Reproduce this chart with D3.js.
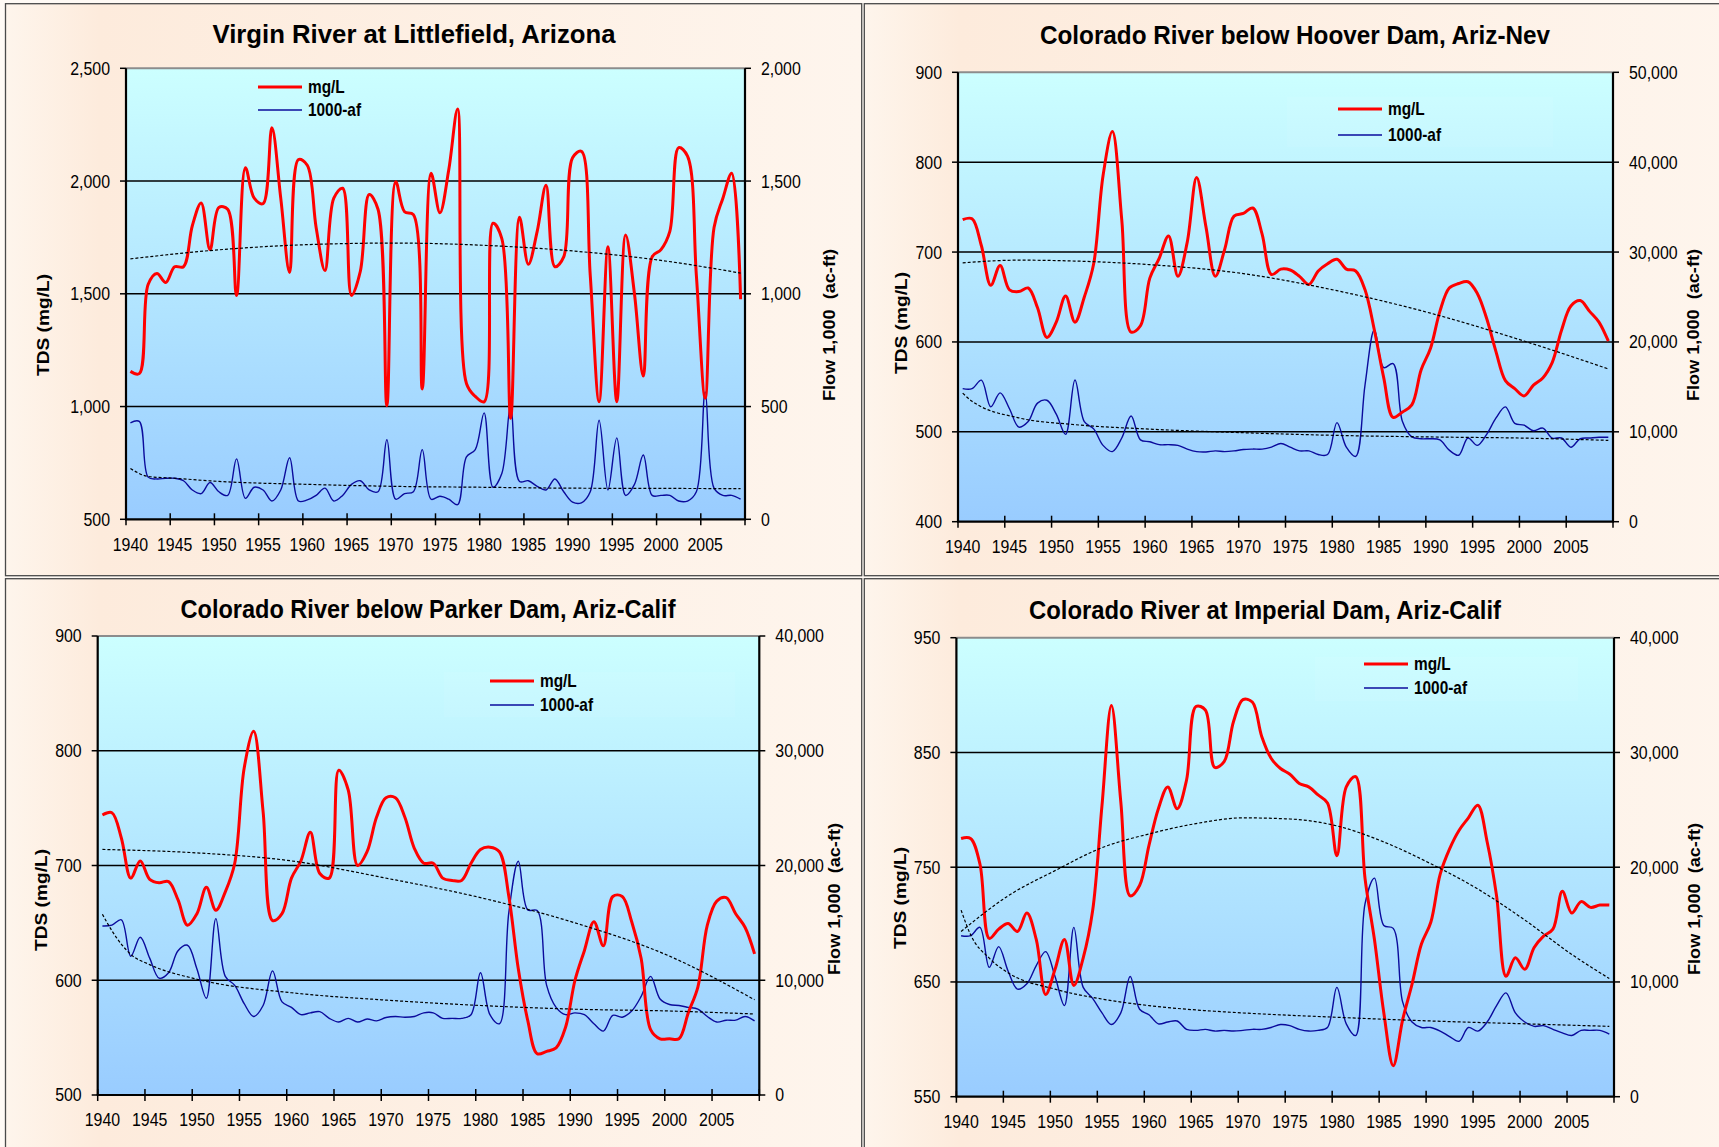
<!DOCTYPE html>
<html>
<head>
<meta charset="utf-8">
<script src="https://cdn.jsdelivr.net/npm/d3@7"></script>
<style>
  html, body { margin: 0; padding: 0; background: #ffffff; }
  svg { display: block; }
</style>
</head>
<body>
<svg id="chart" width="1719" height="1147"></svg>
<script>
// years on the category axis
var years = d3.range(1940, 2010);
var xLabelYears = [1940, 1945, 1950, 1955, 1960, 1965, 1970, 1975, 1980, 1985, 1990, 1995, 2000, 2005];

// Virgin River at Littlefield
var virginTds = [1156, 1146, 1541, 1590, 1550, 1620, 1620, 1802, 1903, 1696,
  1883, 1875, 1493, 2059, 1924, 1900, 2236, 1924, 1595, 2095,
  2070, 1794, 1603, 1924, 1968, 1493, 1600, 1940, 1875, 1004,
  1997, 1864, 1851, 1078, 2035, 1859, 2050, 2319, 1102, 1045,
  1021, 1813, 1745, 948, 1839, 1631, 1777, 1981, 1620, 1664,
  2103, 2132, 1582, 1021, 1709, 1021, 1761, 1500, 1135, 1664,
  1696, 1777, 2148, 2111, 1582, 1037, 1794, 1924, 2035, 1476];
var virginFlow = [428, 434, 187, 179, 182, 182, 171, 130, 114, 163,
  122, 106, 268, 93, 142, 130, 81, 130, 273, 81,
  86, 106, 138, 81, 106, 155, 171, 130, 122, 353,
  89, 114, 122, 309, 89, 102, 89, 65, 277, 309,
  472, 142, 203, 508, 168, 171, 146, 130, 179, 122,
  76, 73, 122, 439, 130, 361, 106, 155, 285, 106,
  106, 106, 81, 81, 122, 565, 138, 106, 106, 89];
var virginTdsTrendYears = [1940, 1950, 1960, 1970, 1980, 1990, 2000, 2009];
var virginTdsTrend = [1655, 1695, 1718, 1725, 1715, 1690, 1648, 1592];
var virginFlowTrendYears = [1940, 1942, 1945, 1950, 1960, 1970, 1980, 1990, 2000, 2009];
var virginFlowTrend = [225, 190, 182, 168, 155, 146, 142, 138, 137, 136];
var virginLeftTicks = [500, 1000, 1500, 2000, 2500];
var virginRightTicks = [0, 500, 1000, 1500, 2000];

// Colorado River below Hoover Dam
var hooverTds = [736, 737, 707, 663, 685, 658, 656, 660, 638, 605,
  622, 651, 622, 650, 687, 785, 834, 736, 611, 618,
  671, 693, 718, 673, 711, 783, 728, 673, 703, 740,
  743, 749, 720, 675, 681, 680, 673, 664, 679, 687,
  692, 681, 679, 658, 613, 560, 516, 522, 530, 569,
  593, 634, 660, 665, 667, 654, 626, 589, 557, 548,
  540, 552, 560, 577, 613, 640, 646, 634, 622, 601];
var hooverFlow = [14800, 14800, 15750, 12780, 14330, 12570, 10530, 11140, 13190, 13510,
  11960, 9720, 15760, 11140, 10330, 8490, 7800, 9310, 11760, 9100,
  8900, 8570, 8570, 8490, 8080, 7800, 7760, 7880, 7800, 7880,
  8040, 8080, 8080, 8290, 8700, 8290, 7880, 7880, 7470, 7470,
  11020, 8290, 7270, 15230, 21350, 17140, 17590, 11140, 9430, 9230,
  9230, 9100, 7960, 7390, 9310, 8490, 9720, 11550, 12780, 10940,
  10740, 10120, 10410, 9310, 9310, 8290, 9230, 9310, 9390, 9390];
var hooverTdsTrendYears = [1940, 1946, 1952, 1960, 1970, 1980, 1990, 2000, 2009];
var hooverTdsTrend = [688, 691, 690, 686, 676, 657, 632, 601, 570];
var hooverFlowTrendYears = [1940, 1941, 1946, 1952, 1960, 1970, 1980, 1990, 2000, 2009];
var hooverFlowTrend = [14300, 13400, 11550, 10800, 10300, 9900, 9600, 9430, 9300, 9050];
var hooverLeftTicks = [400, 500, 600, 700, 800, 900];
var hooverRightTicks = [0, 10000, 20000, 30000, 40000, 50000];

// Colorado River below Parker Dam
var parkerTds = [744, 746, 724, 689, 704, 688, 685, 686, 670, 648,
  658, 681, 661, 677, 702, 785, 817, 747, 652, 658,
  689, 704, 729, 693, 689, 783, 766, 700, 712, 742,
  759, 759, 742, 715, 702, 702, 689, 687, 687, 702,
  714, 716, 712, 673, 610, 565, 536, 538, 541, 559,
  600, 626, 651, 630, 673, 673, 651, 619, 557, 549,
  549, 549, 572, 594, 648, 669, 672, 658, 646, 623];
var parkerFlow = [14730, 14800, 15270, 12090, 13750, 11930, 10180, 10660, 12570, 13050,
  10980, 8430, 15370, 10340, 9550, 7960, 6840, 7800, 10820, 8110,
  7640, 7000, 7160, 7260, 6680, 6360, 6680, 6360, 6620, 6460,
  6750, 6840, 6780, 6840, 7160, 7160, 6680, 6680, 6680, 7000,
  10660, 7000, 6210, 15910, 20370, 16130, 16070, 9550, 7640, 7000,
  7160, 7000, 6210, 5570, 6940, 6780, 7320, 8590, 10340, 8370,
  7890, 7800, 7640, 7480, 6840, 6360, 6520, 6520, 6840, 6460];
var parkerTdsTrendYears = [1940, 1950, 1960, 1970, 1980, 1990, 2000, 2009];
var parkerTdsTrend = [714, 711, 704, 689, 672, 650, 621, 583];
var parkerFlowTrendYears = [1940, 1941, 1943, 1945, 1950, 1960, 1970, 1980, 1990, 2000, 2009];
var parkerFlowTrend = [15750, 14320, 12250, 11360, 10090, 8910, 8270, 7800, 7480, 7320, 7060];
var parkerLeftTicks = [500, 600, 700, 800, 900];
var parkerRightTicks = [0, 10000, 20000, 30000, 40000];

// Colorado River at Imperial Dam
var imperialTds = [775, 775, 753, 688, 696, 701, 694, 710, 687, 639,
  661, 687, 647, 671, 712, 804, 891, 807, 725, 734,
  769, 801, 820, 801, 826, 890, 887, 837, 842, 877,
  896, 894, 864, 845, 836, 831, 823, 820, 813, 806,
  760, 820, 829, 740, 687, 623, 577, 617, 648, 683,
  702, 744, 766, 782, 793, 804, 772, 725, 655, 671,
  661, 680, 690, 696, 729, 710, 720, 715, 717, 717];
var imperialFlow = [14030, 14030, 14760, 11270, 13080, 10950, 9370, 9840, 11430, 12640,
  10480, 7940, 14760, 9530, 8570, 7300, 6290, 7300, 10480, 7620,
  7140, 6350, 6510, 6600, 5870, 5780, 5870, 5720, 5780, 5720,
  5780, 5870, 5870, 6030, 6290, 6190, 5870, 5720, 5780, 6030,
  9530, 6350, 5330, 16830, 19050, 14920, 14670, 8260, 6510, 6030,
  6030, 5720, 5240, 4830, 6030, 5720, 6510, 7940, 9050, 7300,
  6510, 6130, 6190, 5870, 5560, 5330, 5780, 5780, 5780, 5460];
var imperialTdsTrendYears = [1940, 1945, 1950, 1955, 1960, 1965, 1970, 1975, 1980, 1985, 1990, 1995, 2000, 2005, 2009];
var imperialTdsTrend = [694, 725, 747, 767, 779, 788, 793, 792, 786, 772, 753, 731, 704, 674, 653];
var imperialFlowTrendYears = [1940, 1941, 1943, 1945, 1950, 1955, 1960, 1965, 1970, 1980, 1990, 2000, 2009];
var imperialFlowTrend = [16260, 14130, 12070, 10800, 9370, 8510, 7940, 7560, 7300, 6920, 6600, 6350, 6130];
var imperialLeftTicks = [550, 650, 750, 850, 950];
var imperialRightTicks = [0, 10000, 20000, 30000, 40000];

// layout of the four panels (pixels)
var panels = [
  { title: "Virgin River at Littlefield, Arizona",
    frame: [5.5, 3.7, 856.2, 572], plot: [126, 68.3, 745, 519.3],
    tds: virginTds, flow: virginFlow,
    tdsTrend: [virginTdsTrendYears, virginTdsTrend], flowTrend: [virginFlowTrendYears, virginFlowTrend],
    leftTicks: virginLeftTicks, rightTicks: virginRightTicks,
    titlePos: [414, 43, 403], yTitle: [49, 325, 102], rTitle: [835, 325, 152],
    legend: [258, 87, 110], legendBox: null },
  { title: "Colorado River below Hoover Dam, Ariz-Nev",
    frame: [864.3, 3.7, 870, 572], plot: [958, 72.3, 1613, 521.7],
    tds: hooverTds, flow: hooverFlow,
    tdsTrend: [hooverTdsTrendYears, hooverTdsTrend], flowTrend: [hooverFlowTrendYears, hooverFlowTrend],
    leftTicks: hooverLeftTicks, rightTicks: hooverRightTicks,
    titlePos: [1295, 44, 510], yTitle: [907, 323, 102], rTitle: [1699, 325, 152],
    legend: [1338, 109, 135], legendBox: [1287, 97, 266, 50] },
  { title: "Colorado River below Parker Dam, Ariz-Calif",
    frame: [5.5, 578.7, 856.2, 580], plot: [97.7, 636, 759.3, 1095],
    tds: parkerTds, flow: parkerFlow,
    tdsTrend: [parkerTdsTrendYears, parkerTdsTrend], flowTrend: [parkerFlowTrendYears, parkerFlowTrend],
    leftTicks: parkerLeftTicks, rightTicks: parkerRightTicks,
    titlePos: [428, 618, 495], yTitle: [47, 900, 102], rTitle: [840, 899, 152],
    legend: [490, 681, 705], legendBox: [444, 672, 291, 45] },
  { title: "Colorado River at Imperial Dam, Ariz-Calif",
    frame: [864.3, 578.7, 870, 580], plot: [956.4, 637.7, 1614, 1096.7],
    tds: imperialTds, flow: imperialFlow,
    tdsTrend: [imperialTdsTrendYears, imperialTdsTrend], flowTrend: [imperialFlowTrendYears, imperialFlowTrend],
    leftTicks: imperialLeftTicks, rightTicks: imperialRightTicks,
    titlePos: [1265, 619, 472], yTitle: [906, 898, 102], rTitle: [1700, 899, 152],
    legend: [1364, 664, 688], legendBox: [1315, 657, 263, 44] }
];

var svg = d3.select("#chart");
var FONT = "'Liberation Sans', Arial, Helvetica, sans-serif";
var fmt = d3.format(",");

var defs = svg.append("defs");
var pg = defs.append("linearGradient").attr("id", "plotBg")
  .attr("x1", 0).attr("y1", 0).attr("x2", 0).attr("y2", 1);
pg.append("stop").attr("offset", "0%").attr("stop-color", "#ccffff");
pg.append("stop").attr("offset", "100%").attr("stop-color", "#99ccff");
var bg = defs.append("linearGradient").attr("id", "panelBg")
  .attr("x1", 0).attr("y1", 0).attr("x2", 1).attr("y2", 0);
bg.append("stop").attr("offset", "0%").attr("stop-color", "#fef5ec");
bg.append("stop").attr("offset", "11%").attr("stop-color", "#fdebdc");
bg.append("stop").attr("offset", "100%").attr("stop-color", "#fef5ed");

svg.append("rect").attr("width", 1719).attr("height", 1147).attr("fill", "#fffaf5");

// horizontal text, squeezed a bit like the original
function label(g, x, y, s, anchor, size, weight, sx) {
  return g.append("text")
    .attr("transform", "translate(" + x + "," + y + ") scale(" + sx + ",1)")
    .attr("text-anchor", anchor)
    .attr("dy", "0.35em")
    .style("font-family", FONT)
    .style("font-size", size + "px")
    .style("font-weight", weight)
    .attr("fill", "#000")
    .text(s);
}

panels.forEach(function(p, i) {
  var g = svg.append("g");
  var f = p.frame;
  g.append("rect")
    .attr("x", f[0]).attr("y", f[1]).attr("width", f[2]).attr("height", f[3])
    .attr("fill", "url(#panelBg)")
    .attr("stroke", "#4a4a4a").attr("stroke-width", 1.3);

  var x0 = p.plot[0], y0 = p.plot[1], x1 = p.plot[2], y1 = p.plot[3];
  var lt = p.leftTicks, rt = p.rightTicks;
  var x = d3.scaleLinear().domain([1939.5, 2009.5]).range([x0, x1]);
  var yL = d3.scaleLinear().domain([lt[0], lt[lt.length - 1]]).range([y1, y0]);
  var yR = d3.scaleLinear().domain([rt[0], rt[rt.length - 1]]).range([y1, y0]);

  g.append("rect")
    .attr("x", x0).attr("y", y0).attr("width", x1 - x0).attr("height", y1 - y0)
    .attr("fill", "url(#plotBg)");

  if (p.legendBox) {
    var b = p.legendBox;
    g.append("rect").attr("x", b[0]).attr("y", b[1]).attr("width", b[2]).attr("height", b[3])
      .attr("fill", "#ffffff").attr("opacity", 0.06);
  }

  // gridlines
  g.selectAll(".grid").data(lt.slice(1, -1)).enter().append("line")
    .attr("x1", x0).attr("x2", x1)
    .attr("y1", function(d) { return yL(d); })
    .attr("y2", function(d) { return yL(d); })
    .attr("stroke", "#000").attr("stroke-width", 1.5);

  // plot-area top edge
  g.append("line").attr("x1", x0).attr("x2", x1).attr("y1", y0).attr("y2", y0)
    .attr("stroke", "#8c8c8c").attr("stroke-width", 2);

  var clipId = "clip" + i;
  defs.append("clipPath").attr("id", clipId).append("rect")
    .attr("x", x0).attr("y", y0).attr("width", x1 - x0).attr("height", y1 - y0);
  var lines = g.append("g").attr("clip-path", "url(#" + clipId + ")");

  var smooth = d3.curveCatmullRom.alpha(0.5);
  var flowLine = d3.line()
    .x(function(d, k) { return x(years[k]); })
    .y(function(d) { return yR(d); })
    .curve(smooth);
  var tdsLine = d3.line()
    .x(function(d, k) { return x(years[k]); })
    .y(function(d) { return yL(d); })
    .curve(smooth);

  lines.append("path").datum(p.flow)
    .attr("d", flowLine)
    .attr("fill", "none").attr("stroke", "#0b0b9c").attr("stroke-width", 1.4);

  lines.append("path").datum(p.tds)
    .attr("d", tdsLine)
    .attr("fill", "none").attr("stroke", "#ff0000").attr("stroke-width", 3)
    .attr("stroke-linejoin", "round");

  // dashed trend lines
  var tY = p.tdsTrend[0], tV = p.tdsTrend[1];
  lines.append("path").datum(tY)
    .attr("d", d3.line()
      .x(function(d) { return x(d); })
      .y(function(d, k) { return yL(tV[k]); })
      .curve(d3.curveMonotoneX))
    .attr("fill", "none").attr("stroke", "#000").attr("stroke-width", 1.2)
    .attr("stroke-dasharray", "3,2");
  var fY = p.flowTrend[0], fV = p.flowTrend[1];
  lines.append("path").datum(fY)
    .attr("d", d3.line()
      .x(function(d) { return x(d); })
      .y(function(d, k) { return yR(fV[k]); })
      .curve(d3.curveMonotoneX))
    .attr("fill", "none").attr("stroke", "#000").attr("stroke-width", 1.2)
    .attr("stroke-dasharray", "3,2");

  // axes
  g.append("line").attr("x1", x0).attr("x2", x0).attr("y1", y0).attr("y2", y1)
    .attr("stroke", "#000").attr("stroke-width", 2.2);
  g.append("line").attr("x1", x1).attr("x2", x1).attr("y1", y0).attr("y2", y1)
    .attr("stroke", "#000").attr("stroke-width", 2.2);
  g.append("line").attr("x1", x0 - 1).attr("x2", x1 + 1).attr("y1", y1).attr("y2", y1)
    .attr("stroke", "#000").attr("stroke-width", 2.2);

  lt.forEach(function(v) {
    g.append("line").attr("x1", x0 - 6).attr("x2", x0).attr("y1", yL(v)).attr("y2", yL(v))
      .attr("stroke", "#000").attr("stroke-width", 1.5);
    label(g, x0 - 16, yL(v), fmt(v), "end", 18.5, "normal", 0.86);
  });
  rt.forEach(function(v) {
    g.append("line").attr("x1", x1).attr("x2", x1 + 6).attr("y1", yR(v)).attr("y2", yR(v))
      .attr("stroke", "#000").attr("stroke-width", 1.5);
    label(g, x1 + 16, yR(v), fmt(v), "start", 18.5, "normal", 0.86);
  });
  d3.range(1939.5, 2010, 5).forEach(function(v) {
    g.append("line").attr("x1", x(v)).attr("x2", x(v)).attr("y1", y1 - 6).attr("y2", y1 + 6)
      .attr("stroke", "#000").attr("stroke-width", 1.5);
  });
  xLabelYears.forEach(function(v) {
    label(g, x(v), y1 + 25, String(v), "middle", 18.5, "normal", 0.86);
  });

  // titles
  g.append("text")
    .attr("x", p.titlePos[0]).attr("y", p.titlePos[1])
    .attr("text-anchor", "middle")
    .attr("textLength", p.titlePos[2]).attr("lengthAdjust", "spacingAndGlyphs")
    .style("font-family", FONT).style("font-size", "25px").style("font-weight", "bold")
    .text(p.title);

  g.append("text")
    .attr("transform", "translate(" + p.yTitle[0] + "," + p.yTitle[1] + ") rotate(-90)")
    .attr("text-anchor", "middle")
    .attr("textLength", p.yTitle[2]).attr("lengthAdjust", "spacingAndGlyphs")
    .style("font-family", FONT).style("font-size", "17px").style("font-weight", "bold")
    .text("TDS (mg/L)");

  g.append("text")
    .attr("transform", "translate(" + p.rTitle[0] + "," + p.rTitle[1] + ") rotate(-90)")
    .attr("text-anchor", "middle")
    .attr("textLength", p.rTitle[2]).attr("lengthAdjust", "spacingAndGlyphs")
    .style("font-family", FONT).style("font-size", "17px").style("font-weight", "bold")
    .style("white-space", "pre")
    .text("Flow 1,000  (ac-ft)");

  // legend
  var lg = p.legend;
  g.append("line").attr("x1", lg[0]).attr("x2", lg[0] + 44).attr("y1", lg[1]).attr("y2", lg[1])
    .attr("stroke", "#ff0000").attr("stroke-width", 3);
  g.append("line").attr("x1", lg[0]).attr("x2", lg[0] + 44).attr("y1", lg[2]).attr("y2", lg[2])
    .attr("stroke", "#0b0b9c").attr("stroke-width", 1.4);
  label(g, lg[0] + 50, lg[1], "mg/L", "start", 17.5, "bold", 0.88);
  label(g, lg[0] + 50, lg[2], "1000-af", "start", 17.5, "bold", 0.88);
});
</script>
</body>
</html>
